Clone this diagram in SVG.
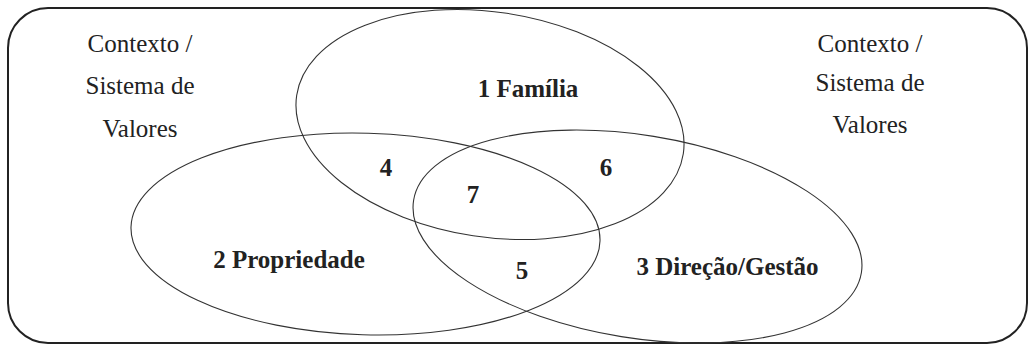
<svg xmlns="http://www.w3.org/2000/svg" width="1032" height="345" viewBox="0 0 1032 345">
<style>
.ctx{font-family:"Liberation Serif","Times New Roman",serif;font-size:25px;fill:#222;text-anchor:middle}
.lbl{font-family:"Liberation Serif","Times New Roman",serif;font-size:25px;font-weight:bold;fill:#222;text-anchor:middle}
.set{fill:none;stroke:#333;stroke-width:1.1}
</style>
<rect width="1032" height="345" fill="#fff"/>
<g id="context">
<rect x="8" y="8" width="1019" height="335" rx="40" ry="40" fill="none" stroke="#222" stroke-width="2"/>
<text class="ctx" x="140" y="52">Contexto /</text>
<text class="ctx" x="140" y="94">Sistema de</text>
<text class="ctx" x="140" y="137">Valores</text>
<text class="ctx" x="870" y="52">Contexto /</text>
<text class="ctx" x="870" y="91">Sistema de</text>
<text class="ctx" x="870" y="133">Valores</text>
</g>
<g id="familia">
<ellipse class="set" cx="490" cy="124.5" rx="195.5" ry="112.5" transform="rotate(8.6 490 124.5)"/>
<text class="lbl" x="528" y="97">1 Família</text>
</g>
<g id="propriedade">
<ellipse class="set" cx="365.5" cy="234" rx="234.6" ry="100.8" transform="rotate(1.7 365.5 234)"/>
<text class="lbl" x="289" y="268">2 Propriedade</text>
</g>
<g id="direcao">
<ellipse class="set" cx="637.5" cy="236.5" rx="226.8" ry="101.4" transform="rotate(9.2 637.5 236.5)"/>
<text class="lbl" x="727.5" y="275">3 Direção/Gestão</text>
</g>
<g id="intersections">
<text class="lbl" x="386" y="176">4</text>
<text class="lbl" x="522" y="279">5</text>
<text class="lbl" x="606" y="176">6</text>
<text class="lbl" x="473" y="203">7</text>
</g>
<g id="connectors"/>
</svg>
